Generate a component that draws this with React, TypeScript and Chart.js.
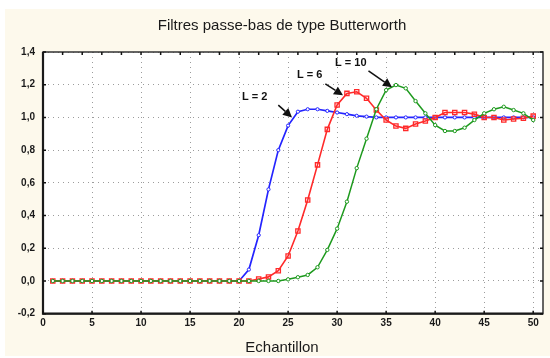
import React, { useEffect, useRef } from 'react';
import { Chart, registerables } from 'chart.js';

Chart.register(...registerables);

const TITLE = 'Filtres passe-bas de type Butterworth';
const X_TITLE = 'Echantillon';

const samples = [
  1, 2, 3, 4, 5, 6, 7, 8, 9, 10, 11, 12, 13, 14, 15, 16, 17, 18, 19, 20, 21, 22, 23, 24, 25,
  26, 27, 28, 29, 30, 31, 32, 33, 34, 35, 36, 37, 38, 39, 40, 41, 42, 43, 44, 45, 46, 47, 48, 49, 50,
];

// L = 2
const seriesL2 = [
  0, 0, 0, 0, 0, 0, 0, 0, 0, 0, 0, 0, 0, 0, 0, 0, 0, 0, 0, 0,
  0.07, 0.28, 0.56, 0.8, 0.95, 1.035, 1.05, 1.05, 1.04, 1.03,
  1.02, 1.01, 1.005, 1.0, 1.0, 1.0, 1.0, 1.0, 1.0, 1.0,
  1.0, 1.0, 1.0, 1.0, 1.0, 1.0, 1.0, 1.0, 1.0, 1.0,
];

// L = 6
const seriesL6 = [
  0, 0, 0, 0, 0, 0, 0, 0, 0, 0, 0, 0, 0, 0, 0, 0, 0, 0, 0, 0,
  0, 0.012, 0.025, 0.063, 0.153, 0.306, 0.495, 0.71, 0.927, 1.076,
  1.147, 1.157, 1.117, 1.045, 0.984, 0.947, 0.933, 0.96, 0.978, 1.0,
  1.03, 1.03, 1.03, 1.02, 1.0, 1.0, 0.984, 0.99, 0.995, 1.008,
];

// L = 10
const seriesL10 = [
  0, 0, 0, 0, 0, 0, 0, 0, 0, 0, 0, 0, 0, 0, 0, 0, 0, 0, 0, 0,
  0, 0, 0, 0, 0.01, 0.023, 0.037, 0.084, 0.19, 0.32,
  0.485, 0.69, 0.87, 1.05, 1.167, 1.198, 1.178, 1.1, 1.025, 0.953,
  0.917, 0.917, 0.937, 0.984, 1.025, 1.05, 1.065, 1.045, 1.025, 0.984,
];

const xTickValues = [0, 5, 10, 15, 20, 25, 30, 35, 40, 45, 50];
const yTickValues = [-0.2, 0, 0.2, 0.4, 0.6, 0.8, 1.0, 1.2, 1.4];
const topTickValues = [2, 4, 6, 8, 10, 12, 14, 16, 18, 20, 22, 24, 26, 28, 30, 32, 34, 36, 38, 40, 42, 44, 46, 48, 50];

const annotationLabels = ['L = 2', 'L = 6', 'L = 10'];
const annotationPlaces = [
  { tx: 21.6, ty: 1.125, x0: 24.0, y0: 1.075, x1: 25.4, y1: 1.0 },
  { tx: 27.2, ty: 1.26, x0: 28.8, y0: 1.205, x1: 30.6, y1: 1.135 },
  { tx: 31.4, ty: 1.335, x0: 33.2, y0: 1.285, x1: 35.6, y1: 1.185 },
];

const CREAM = '#fdf9ec';
const FONT = '"Liberation Sans", Arial, sans-serif';

const decorPlugin = {
  id: 'decor',
  beforeDraw(chart: any) {
    const { ctx, chartArea: a, width, height } = chart;
    ctx.save();
    ctx.fillStyle = '#ffffff';
    ctx.fillRect(0, 0, width, height);
    ctx.fillStyle = CREAM;
    ctx.fillRect(5, 9, width - 5, height - 11);
    ctx.fillStyle = '#ffffff';
    ctx.fillRect(a.left, a.top, a.right - a.left, a.bottom - a.top);
    ctx.restore();
  },
  afterDraw(chart: any) {
    const { ctx, chartArea: a } = chart;
    const xs = chart.scales.x;
    const ys = chart.scales.y;
    ctx.save();

    // frame
    ctx.strokeStyle = '#333333';
    ctx.lineWidth = 1.5;
    ctx.strokeRect(a.left, a.top, a.right - a.left, a.bottom - a.top);
    ctx.strokeStyle = '#1a1a1a';
    ctx.lineWidth = 2.2;
    ctx.beginPath();
    ctx.moveTo(a.left, a.top);
    ctx.lineTo(a.left, a.bottom);
    ctx.lineTo(a.right, a.bottom);
    ctx.stroke();

    // tick marks
    ctx.strokeStyle = '#111111';
    ctx.lineWidth = 1.5;
    ctx.beginPath();
    xTickValues.forEach((v) => {
      const px = xs.getPixelForValue(v);
      ctx.moveTo(px, a.bottom);
      ctx.lineTo(px, a.bottom - 3);
    });
    topTickValues.forEach((v) => {
      const px = xs.getPixelForValue(v);
      ctx.moveTo(px, a.top);
      ctx.lineTo(px, a.top + 3);
    });
    yTickValues.forEach((v) => {
      const py = ys.getPixelForValue(v);
      ctx.moveTo(a.left, py);
      ctx.lineTo(a.left + 3, py);
      ctx.moveTo(a.right, py);
      ctx.lineTo(a.right - 3, py);
    });
    ctx.stroke();

    // annotations
    ctx.fillStyle = '#111111';
    ctx.strokeStyle = '#111111';
    ctx.font = 'bold 11px ' + FONT;
    ctx.textAlign = 'center';
    ctx.textBaseline = 'middle';
    annotationPlaces.forEach((p, i) => {
      ctx.fillText(annotationLabels[i], xs.getPixelForValue(p.tx), ys.getPixelForValue(p.ty));
      const x0 = xs.getPixelForValue(p.x0);
      const y0 = ys.getPixelForValue(p.y0);
      const x1 = xs.getPixelForValue(p.x1);
      const y1 = ys.getPixelForValue(p.y1);
      const ang = Math.atan2(y1 - y0, x1 - x0);
      const len = 9;
      const hw = 4.5;
      const bx = x1 - len * Math.cos(ang);
      const by = y1 - len * Math.sin(ang);
      ctx.lineWidth = 1.5;
      ctx.beginPath();
      ctx.moveTo(x0, y0);
      ctx.lineTo(bx, by);
      ctx.stroke();
      ctx.beginPath();
      ctx.moveTo(x1, y1);
      ctx.lineTo(bx + hw * Math.sin(ang), by - hw * Math.cos(ang));
      ctx.lineTo(bx - hw * Math.sin(ang), by + hw * Math.cos(ang));
      ctx.closePath();
      ctx.fill();
    });

    // titles
    ctx.fillStyle = '#1a1a1a';
    ctx.font = '15px ' + FONT;
    ctx.textAlign = 'center';
    ctx.textBaseline = 'middle';
    const cx = (a.left + a.right) / 2 - 11;
    ctx.fillText(TITLE, cx, a.top - 26);
    ctx.fillText(X_TITLE, cx, a.bottom + 34.5);
    ctx.restore();
  },
};

export default function App() {
  const ref = useRef<HTMLCanvasElement>(null);

  useEffect(() => {
    const toPoints = (vals: number[]) => samples.map((s, i) => ({ x: s, y: vals[i] }));
    const chart = new Chart(ref.current as HTMLCanvasElement, {
      type: 'line',
      data: {
        datasets: [
          {
            label: 'L = 2',
            data: toPoints(seriesL2),
            borderColor: '#2424ff',
            borderWidth: 1.7,
            pointStyle: 'circle',
            pointRadius: 1.6,
            pointBorderWidth: 1,
            pointBorderColor: '#2424ff',
            pointBackgroundColor: '#ffffff',
            tension: 0,
            order: 3,
          },
          {
            label: 'L = 6',
            data: toPoints(seriesL6),
            borderColor: '#ff2a2a',
            borderWidth: 1.6,
            pointStyle: 'rect',
            pointRadius: 3,
            pointBorderWidth: 1.3,
            pointBorderColor: '#ff2a2a',
            pointBackgroundColor: 'rgba(255,255,255,0)',
            tension: 0,
            order: 2,
          },
          {
            label: 'L = 10',
            data: toPoints(seriesL10),
            borderColor: '#1e9a1e',
            borderWidth: 1.5,
            pointStyle: 'circle',
            pointRadius: 1.7,
            pointBorderWidth: 1,
            pointBorderColor: '#1e9a1e',
            pointBackgroundColor: '#ffffff',
            tension: 0,
            order: 1,
          },
        ],
      },
      options: {
        animation: false,
        responsive: false,
        devicePixelRatio: 1,
        layout: { padding: { left: 5, top: 52, right: 7, bottom: 0 } },
        plugins: {
          legend: { display: false },
          tooltip: { enabled: false },
          title: { display: false },
        },
        scales: {
          x: {
            type: 'linear',
            min: 0,
            max: 51,
            afterFit: (scale: any) => {
              scale.height = 44.3;
            },
            afterBuildTicks: (scale: any) => {
              scale.ticks = xTickValues.map((v) => ({ value: v }));
            },
            ticks: {
              padding: 4,
              maxRotation: 0,
              autoSkip: false,
              color: '#1a1a1a',
              font: { family: FONT, size: 10, weight: 'bold' },
              callback: (v: any) => String(v),
            },
            grid: { color: '#9c9c9c', lineWidth: 1, drawTicks: false },
            border: { display: false, dash: [1, 4] },
          },
          y: {
            type: 'linear',
            min: -0.2,
            max: 1.4,
            afterFit: (scale: any) => {
              scale.width = 38;
            },
            afterBuildTicks: (scale: any) => {
              scale.ticks = yTickValues.map((v) => ({ value: v }));
            },
            ticks: {
              padding: 8,
              color: '#1a1a1a',
              font: { family: FONT, size: 10, weight: 'bold' },
              callback: (v: any) => Number(v).toFixed(1).replace('.', ','),
            },
            grid: { color: '#9c9c9c', lineWidth: 1, drawTicks: false },
            border: { display: false, dash: [1, 4] },
          },
        },
      },
      plugins: [decorPlugin],
    } as any);
    return () => chart.destroy();
  }, []);

  return (
    <div style={{ position: 'absolute', left: 0, top: 0, width: 550, height: 358 }}>
      <canvas ref={ref} width={550} height={358} style={{ display: 'block' }} />
    </div>
  );
}
